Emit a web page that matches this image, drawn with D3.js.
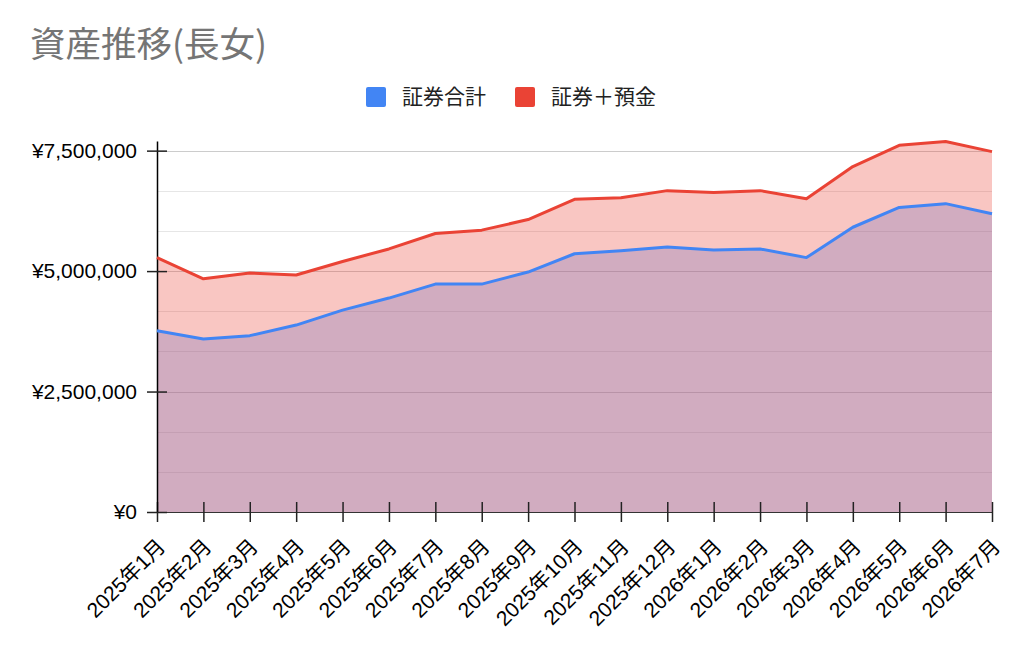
<!DOCTYPE html>
<html>
<head>
<meta charset="utf-8">
<script src="https://cdn.jsdelivr.net/npm/d3@7"></script>
<style>
  body { margin: 0; background: #fff; }
  svg { display: block; }
  .axis text { font-family: "Liberation Sans", Arial, "Noto Sans CJK JP", sans-serif; fill: #000; }
</style>
</head>
<body>
<script>
// data
var months = ["2025年1月","2025年2月","2025年3月","2025年4月","2025年5月","2025年6月","2025年7月","2025年8月","2025年9月","2025年10月","2025年11月","2025年12月","2026年1月","2026年2月","2026年3月","2026年4月","2026年5月","2026年6月","2026年7月"];
var shoken = [3760000,3590000,3660000,3880000,4190000,4440000,4730000,4730000,4980000,5360000,5420000,5500000,5440000,5460000,5280000,5910000,6320000,6400000,6190000];
var shokenYokin = [5280000,4840000,4960000,4920000,5200000,5460000,5780000,5850000,6070000,6490000,6520000,6670000,6630000,6670000,6500000,7170000,7610000,7690000,7480000];
var yTicks = [0, 2500000, 5000000, 7500000];
var seriesNames = ["証券合計", "証券＋預金"];

(function(){
var W = 1024, H = 652;
var margin = {top: 141, right: 992, bottom: 512, left: 157};

var svg = d3.select("body").append("svg")
    .attr("width", W)
    .attr("height", H);

var x = d3.scalePoint()
    .domain(months)
    .range([margin.left, margin.right]);

var y = d3.scaleLinear()
    .domain([0, 7700000])
    .range([margin.bottom, margin.top]);

var color = d3.scaleOrdinal()
    .domain(seriesNames)
    .range(["#4285f4", "#ea4335"]);

// title
svg.append("text")
    .attr("x", 30)
    .attr("y", 57)
    .style("font-family", "'Noto Sans CJK JP', sans-serif")
    .style("font-size", "35.5px")
    .style("fill", "#757575")
    .text("資産推移(長女)");

// legend
var legendX = [366, 515];
var legend = svg.selectAll(".legend")
    .data(seriesNames)
  .enter().append("g")
    .attr("class", "legend")
    .attr("transform", function(d, i) { return "translate(" + legendX[i] + ",87)"; });

legend.append("rect")
    .attr("width", 20)
    .attr("height", 20)
    .attr("rx", 2)
    .style("fill", color);

legend.append("text")
    .attr("x", 36)
    .attr("y", 10)
    .attr("dy", ".35em")
    .style("font-family", "'Noto Sans CJK JP', sans-serif")
    .style("font-size", "21px")
    .style("fill", "#222")
    .text(function(d) { return d; });

// gridlines, minor every 1/3 of a major step
var minor = d3.range(1, 10).map(function(i) { return i * 2500000 / 3; })
    .filter(function(v) { return Math.abs(v / 2500000 - Math.round(v / 2500000)) > 0.01; });

svg.append("g").selectAll("line")
    .data(minor)
  .enter().append("line")
    .attr("x1", margin.left).attr("x2", margin.right)
    .attr("y1", function(d) { return Math.round(y(d)) + 0.5; })
    .attr("y2", function(d) { return Math.round(y(d)) + 0.5; })
    .style("stroke", "#e6e6e6");

svg.append("g").selectAll("line")
    .data(yTicks)
  .enter().append("line")
    .attr("x1", margin.left).attr("x2", margin.right)
    .attr("y1", function(d) { return Math.round(y(d)) + 0.5; })
    .attr("y2", function(d) { return Math.round(y(d)) + 0.5; })
    .style("stroke", "#cccccc");

// areas, red one drawn over the blue one
var series = [shoken, shokenYokin];

var area = d3.area()
    .x(function(d, i) { return x(months[i]); })
    .y0(y(0))
    .y1(function(d) { return y(d); });

var line = d3.line()
    .x(function(d, i) { return x(months[i]); })
    .y(function(d) { return y(d); });

svg.selectAll(".area")
    .data(series)
  .enter().append("path")
    .attr("class", "area")
    .attr("d", area)
    .style("fill", function(d, i) { return color(seriesNames[i]); })
    .style("fill-opacity", 0.3);

// axes
var xAxis = d3.axisBottom(x).tickSize(10).tickSizeOuter(0);
var yAxis = d3.axisLeft(y).tickValues(yTicks).tickSize(10).tickSizeOuter(0)
    .tickPadding(10)
    .tickFormat(function(d) { return "¥" + d3.format(",")(d); });

var gx = svg.append("g")
    .attr("class", "axis")
    .attr("transform", "translate(0," + margin.bottom + ")")
    .call(xAxis);
gx.select(".domain").style("stroke", "#333");
gx.selectAll(".tick line").attr("y1", -10).style("stroke", "#222").style("stroke-width", 1.5);
gx.selectAll(".tick text")
    .attr("x", 0).attr("y", 0).attr("dy", 0)
    .attr("transform", "translate(9,36) rotate(-45)")
    .style("text-anchor", "end")
    .style("font-size", "21px");

var gy = svg.append("g")
    .attr("class", "axis")
    .attr("transform", "translate(" + margin.left + ",0)")
    .call(yAxis);
gy.select(".domain").style("stroke", "#000").style("stroke-width", 1.5);
gy.selectAll(".tick line").attr("x1", 10).style("stroke", "#222").style("stroke-width", 1.5);
gy.selectAll(".tick text")
    .style("font-size", "21px");

// lines on top
svg.selectAll(".line")
    .data(series)
  .enter().append("path")
    .attr("class", "line")
    .attr("d", line)
    .style("fill", "none")
    .style("stroke", function(d, i) { return color(seriesNames[i]); })
    .style("stroke-width", 3)
    .style("stroke-linejoin", "round");
})();
</script>
</body>
</html>
